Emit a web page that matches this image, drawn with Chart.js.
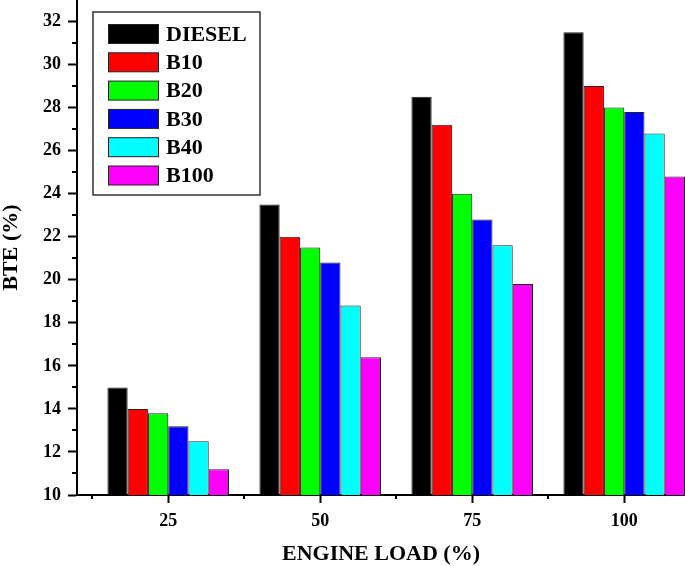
<!DOCTYPE html>
<html>
<head>
<meta charset="utf-8">
<script src="https://cdn.jsdelivr.net/npm/chart.js@4"></script>
<style>
  body { margin: 0; background: #fff; }
</style>
</head>
<body>
<canvas id="bteChart" width="685" height="566"></canvas>
<script>
var loads = [25, 50, 75, 100];
var fuels = ['DIESEL', 'B10', 'B20', 'B30', 'B40', 'B100'];
var diesel = [15.0, 23.5, 28.5, 31.5];
var b10 = [14.0, 22.0, 27.2, 29.0];
var b20 = [13.8, 21.5, 24.0, 28.0];
var b30 = [13.2, 20.8, 22.8, 27.8];
var b40 = [12.5, 18.8, 21.6, 26.8];
var b100 = [11.2, 16.4, 19.8, 24.8];
var yTicks = [10, 12, 14, 16, 18, 20, 22, 24, 26, 28, 30, 32];
var yMinorTicks = [11, 13, 15, 17, 19, 21, 23, 25, 27, 29, 31];
var xMinorTicks = [12.5, 37.5, 62.5, 87.5];
var colors = ['#000000', '#ff0000', '#00ff00', '#0000ff', '#00ffff', '#ff00ff'];

var serif = 'Liberation Serif';
var series = [diesel, b10, b20, b30, b40, b100];

var datasets = series.map(function (vals, i) {
    return {
        label: fuels[i],
        data: loads.map(function (l, j) { return { x: l, y: vals[j] }; }),
        backgroundColor: colors[i],
        borderColor: '#222',
        borderWidth: 1,
        categoryPercentage: 0.8,
        barPercentage: 1
    };
});

// minor ticks (shorter) drawn on the scales
var minorTicks = {
    id: 'minorTicks',
    afterDraw: function (chart) {
        var ctx = chart.ctx, a = chart.chartArea;
        ctx.save();
        ctx.strokeStyle = '#000';
        ctx.lineWidth = 2;
        yMinorTicks.forEach(function (v) {
            var y = Math.round(chart.scales.y.getPixelForValue(v));
            ctx.beginPath(); ctx.moveTo(a.left - 5, y); ctx.lineTo(a.left, y); ctx.stroke();
        });
        xMinorTicks.forEach(function (v) {
            var x = Math.round(chart.scales.x.getPixelForValue(v));
            ctx.beginPath(); ctx.moveTo(x, a.bottom); ctx.lineTo(x, a.bottom + 4); ctx.stroke();
        });
        ctx.restore();
    }
};

// boxed legend in the top-left corner of the plot
var boxLegend = {
    id: 'boxLegend',
    afterDraw: function (chart) {
        var ctx = chart.ctx, a = chart.chartArea;
        var bx = a.left + 16, by = a.top + 12;
        ctx.save();
        ctx.fillStyle = '#fff';
        ctx.fillRect(bx, by, 167, 183);
        ctx.strokeStyle = '#333';
        ctx.lineWidth = 1.5;
        ctx.strokeRect(bx, by, 167, 183);
        ctx.font = 'bold 22px "' + serif + '"';
        ctx.textBaseline = 'middle';
        chart.data.datasets.forEach(function (ds, i) {
            var cy = by + 22 + i * 28.3;
            ctx.fillStyle = ds.backgroundColor;
            ctx.fillRect(bx + 15.5, cy - 9.5, 50, 19);
            ctx.strokeStyle = '#222';
            ctx.lineWidth = 1;
            ctx.strokeRect(bx + 15.5, cy - 9.5, 50, 19);
            ctx.fillStyle = '#000';
            ctx.fillText(ds.label, bx + 73, cy + 1);
        });
        ctx.restore();
    }
};

var ctx = document.getElementById('bteChart').getContext('2d');
var bteChart = new Chart(ctx, {
    type: 'bar',
    data: { datasets: datasets },
    options: {
        responsive: false,
        animation: false,
        layout: { padding: 0 },
        plugins: {
            legend: { display: false },
            tooltip: { enabled: false }
        },
        scales: {
            x: {
                type: 'linear',
                min: 10,
                max: 110,
                offset: false,
                afterBuildTicks: function (s) { s.ticks = loads.map(function (v) { return { value: v }; }); },
                afterFit: function (s) { s.height = 71; s.paddingLeft = 0; s.paddingRight = 0; },
                grid: { drawOnChartArea: false, offset: false, tickLength: 8, tickWidth: 2, tickColor: '#000' },
                border: { color: '#000', width: 2 },
                ticks: {
                    color: '#000', autoSkip: false, maxRotation: 0, padding: 8,
                    font: { family: serif, weight: 'bold', size: 18 }
                },
                title: {
                    display: true, text: 'ENGINE LOAD (%)', color: '#000',
                    font: { family: serif, weight: 'bold', size: 22, lineHeight: 1 },
                    padding: { top: 0, bottom: 1 }
                }
            },
            y: {
                min: 10,
                max: 33,
                afterBuildTicks: function (s) { s.ticks = yTicks.map(function (v) { return { value: v }; }); },
                afterFit: function (s) { s.width = 77; s.paddingTop = 0; s.paddingBottom = 0; },
                grid: { drawOnChartArea: false, tickLength: 9, tickWidth: 2, tickColor: '#000' },
                border: { color: '#000', width: 2 },
                ticks: {
                    color: '#000', padding: 7,
                    font: { family: serif, weight: 'bold', size: 18 }
                },
                title: {
                    display: true, text: 'BTE (%)', color: '#000',
                    font: { family: serif, weight: 'bold', size: 22, lineHeight: 1 },
                    padding: { top: 0, bottom: 0 }
                }
            }
        }
    },
    plugins: [minorTicks, boxLegend]
});
</script>
</body>
</html>
